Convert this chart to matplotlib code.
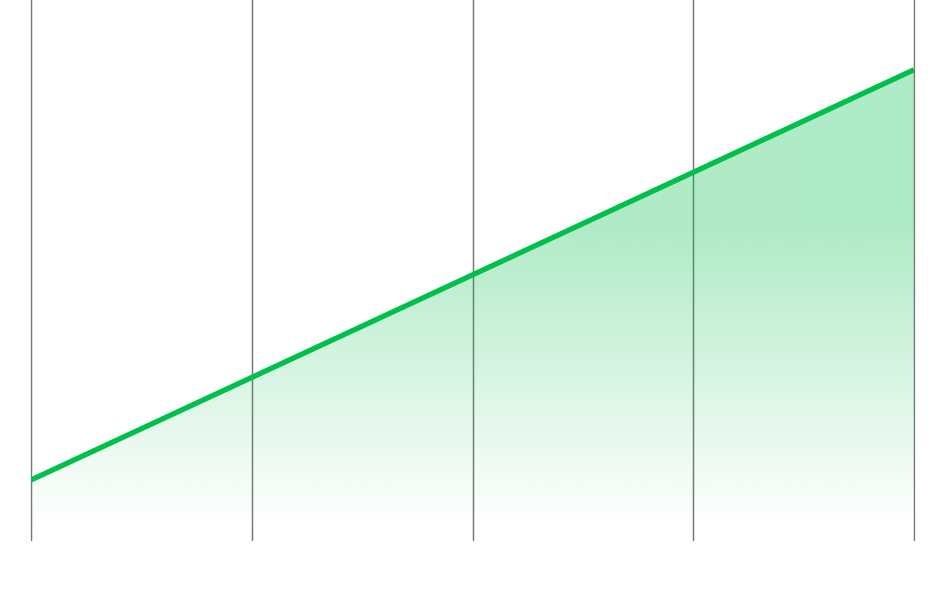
import numpy as np
import matplotlib.pyplot as plt
from matplotlib.colors import to_rgb

# Data
x_vals = [0, 1, 2, 3, 4]
y_vals = [10, 20, 30, 40, 50]
y_min, y_max = 4.15, 56.8

green = "#00c04b"

fig = plt.figure(figsize=(9.44, 5.92), dpi=100)
ax = fig.add_axes([31 / 944, 52 / 592, 883 / 944, 540 / 592])
ax.set_xlim(0, 4)
ax.set_ylim(y_min, y_max)
for s in ax.spines.values():
    s.set_visible(False)
ax.set_xticks(x_vals)
ax.set_yticks([])
ax.tick_params(length=0, labelbottom=False)
ax.grid(axis="x", color="#777777", lw=0.9)
for xv in x_vals:
    ax.axvline(xv, color="#777777", lw=0.9, clip_on=False, zorder=1)

# gradient fill under the line
poly = ax.fill_between(x_vals, y_vals, y_min, color="none", lw=0)
h = 540
rows = np.arange(h)[:, None]  # pixel rows from top
alpha = np.clip((525 - rows) / (525 - 230), 0, 1) * 0.31
img = np.zeros((h, 2, 4))
img[..., :3] = to_rgb(green)
img[..., 3] = alpha
im = ax.imshow(img, extent=[0, 4, y_min, y_max], aspect="auto", origin="upper", zorder=2)
im.set_clip_path(poly.get_paths()[0], transform=ax.transData)

ax.plot(x_vals, y_vals, color=green, lw=3.8, solid_capstyle="butt", zorder=3)

fig.savefig("out.png", dpi=100)
